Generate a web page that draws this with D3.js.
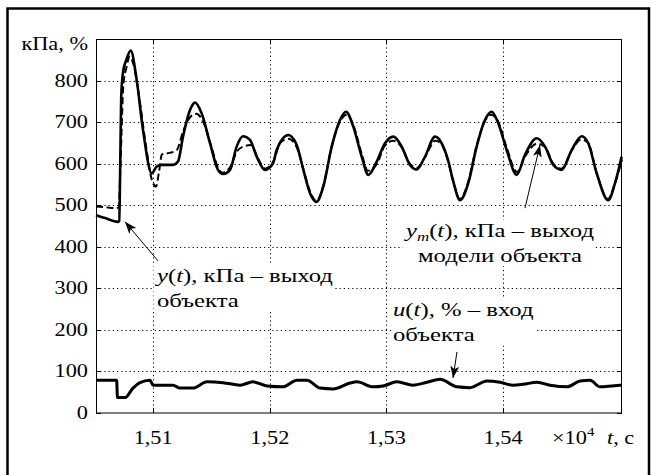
<!DOCTYPE html>
<html><head><meta charset="utf-8">
<script src="https://cdn.jsdelivr.net/npm/d3@7"></script>
<style>
body{margin:0;background:#fff}
svg{display:block}
text{font-family:"Liberation Serif","Times New Roman",serif;fill:#000}
</style>
</head><body>
<svg id="c" width="651" height="475"></svg>
<script>
// ---- data ----
const yTicks = [0,100,200,300,400,500,600,700,800];
const xTicks = [15100,15200,15300,15400];
const xTickLabels = ["1,51","1,52","1,53","1,54"];

// y(t), kPa – object output (solid)
const tY = [15051,15058.7,15069.9,15070.9,15071.8,15072.6,15074.1,15077,15080.8,15085.9,15091.3,15098.8,15103.0,15107.3,15117.0,15121.3,15125.6,15131.6,15135.9,15141.6,15148.7,15155.6,15159.9,15165.9,15171.6,15177.0,15183.0,15188.8,15195.9,15202.8,15205.9,15215.9,15223.1,15228.8,15234.5,15240.2,15245.9,15253.1,15260.2,15265.4,15271.6,15278.8,15284.5,15291.7,15298.8,15305.9,15313.1,15320.2,15326.0,15333.1,15341.7,15347.4,15352.8,15357.1,15363.1,15370.2,15377.4,15384.5,15390.3,15395.9,15403.1,15411.7,15418.8,15428.9,15436.0,15443.1,15450.3,15458.9,15467.4,15473.1,15480.3,15490.2,15496.0,15501.7];
const yVals = [476,469,460,462,600,760,818,850,872,801,681,577,593,597,597,605,665,729,747,721,650,585,575,585,641,666,657,617,585,601,633,669,645,585,529,508,545,641,705,725,689,617,573,605,649,665,641,597,586,617,665,649,609,560,512,553,641,705,725,697,633,573,621,661,641,597,585,633,666,649,577,512,553,617];

// y_m(t), kPa – model output (dashed)
const tYm = [15051,15060,15068,15070.5,15072,15074.5,15077,15080,15083,15088,15094,15099,15102.5,15105,15107.5,15114,15120,15126,15132,15137,15143,15150,15156,15160,15166,15172,15178,15184,15190,15196,15203,15209,15216,15223,15229,15235,15240,15246,15253,15260,15266,15272,15279,15284,15292,15299,15306,15313,15320,15326,15333,15342,15347,15353,15357,15363,15370,15377,15384,15390,15396,15403,15412,15419,15429,15436,15443,15450,15459,15467,15473,15480,15490,15496,15502];
const ymVals = [497,495,493,495,600,790,830,858,840,760,640,560,545,580,622,626,632,680,713,720,700,640,588,578,592,630,642,645,612,588,605,650,660,640,585,530,510,548,640,700,718,690,622,583,600,645,655,640,600,590,615,655,648,605,560,515,555,640,700,718,700,640,580,618,648,640,600,588,632,658,650,580,515,553,610];

// u(t), % – object input
const tU = [15051,15068.7,15069.4,15075.9,15082.7,15088.7,15097.3,15099.9,15117.0,15123.0,15134.2,15146.2,15159.9,15174.5,15185.6,15197.6,15211.3,15223.3,15231.9,15243.1,15254.2,15268.8,15274.8,15288.5,15297.1,15309.1,15322.8,15334.8,15346.0,15360.5,15371.7,15386.2,15397.4,15408.5,15417.1,15429.1,15440.3,15454.8,15466.0,15474.6,15483.1,15493.4,15502];
const uVals = [79,79,37,37,60,73,79,67,67,60,60,75,73,67,75,65,63,79,79,60,58,72,75,63,65,75,67,74,81,63,61,77,74,67,69,74,67,63,77,79,63,65,67];

// ---- chart ----
const svg = d3.select("#c");
const SX = 1.24;  // horizontal stretch of the original typography
const SXa = 1.3;  // annotations
const x = d3.scaleLinear().domain([15051,15502]).range([96,622]);
const y = d3.scaleLinear().domain([0,900]).range([413,39]);

// outer frame
svg.append("rect").attr("x",7.5).attr("y",8.5).attr("width",641.5).attr("height",480)
  .attr("fill","none").attr("stroke","#000").attr("stroke-width",2.5);

// marker
const defs = svg.append("defs");
defs.append("marker").attr("id","ah").attr("markerUnits","userSpaceOnUse")
  .attr("markerWidth",14).attr("markerHeight",10).attr("refX",12).attr("refY",4.5)
  .attr("orient","auto")
  .append("path").attr("d","M0,0 L12,4.5 L0,9 L3,4.5 z").attr("fill","#000");

// grid
const grid = svg.append("g").attr("stroke","#000").attr("stroke-width",1).attr("stroke-dasharray","1.2,3");
grid.selectAll("line.h").data(yTicks.filter(d=>d>0)).join("line")
  .attr("x1",96).attr("x2",622).attr("y1",d=>Math.round(y(d))+0.5).attr("y2",d=>Math.round(y(d))+0.5);
grid.selectAll("line.v").data(xTicks).join("line").attr("class","v")
  .attr("y1",39).attr("y2",413).attr("x1",d=>Math.round(x(d))+0.5).attr("x2",d=>Math.round(x(d))+0.5);

// annotation text helper
function note(px, py, lines, anchor) {
  const g = svg.append("g").attr("transform",`translate(${px},${py}) scale(${SXa},1)`);
  const bg = g.append("rect").attr("fill","#fff");
  lines.forEach((ln,i)=>{
    const t = g.append("text").attr("x",0).attr("y",i*25).attr("font-size",19)
      .attr("text-anchor",anchor||"start");
    ln.forEach(p=>{
      const s = t.append("tspan").text(p.t);
      if (p.i) s.attr("font-style","italic");
      if (p.sub) s.attr("font-size",13).attr("dy",4);
      if (p.up) s.attr("dy",-4);
    });
  });
  const b = g.node().getBBox();
  bg.attr("x",b.x-1).attr("y",b.y).attr("width",b.width+2).attr("height",b.height);
  return g;
}
note(157,282,[[{t:"y",i:1},{t:"("},{t:"t",i:1},{t:"), кПа – выход"}],[{t:"объекта"}]]);
note(500,237,[[{t:"y",i:1},{t:"m",i:1,sub:1},{t:"(",up:1},{t:"t",i:1},{t:"), кПа – выход"}],[{t:"модели объекта"}]],"middle");
note(393,316,[[{t:"u",i:1},{t:"("},{t:"t",i:1},{t:"), % – вход"}],[{t:"объекта"}]]);

// lines
const line = d3.line().x(d=>x(d[0])).y(d=>y(d[1])).curve(d3.curveMonotoneX);
svg.append("path").attr("d",line(d3.zip(tYm,ymVals))).attr("fill","none")
  .attr("stroke","#000").attr("stroke-width",2).attr("stroke-dasharray","7,3.5");
svg.append("path").attr("d",line(d3.zip(tY,yVals))).attr("fill","none")
  .attr("stroke","#000").attr("stroke-width",2.6).attr("stroke-linejoin","round");
svg.append("path").attr("d",line(d3.zip(tU,uVals))).attr("fill","none")
  .attr("stroke","#000").attr("stroke-width",3).attr("stroke-linejoin","round");

// arrows (data coordinates of tail and tip)
const arrows = [[[15104.2,366],[15075.9,460]],[[15418.8,493],[15431.7,645]],[[15360.5,147],[15357.1,84]]];
svg.selectAll("line.arr").data(arrows).join("line").attr("class","arr")
  .attr("x1",d=>x(d[0][0])).attr("y1",d=>y(d[0][1])).attr("x2",d=>x(d[1][0])).attr("y2",d=>y(d[1][1]))
  .attr("stroke","#000").attr("stroke-width",1).attr("marker-end","url(#ah)");

// plot frame
svg.append("rect").attr("x",96.5).attr("y",39.5).attr("width",525).attr("height",373.5)
  .attr("fill","none").attr("stroke","#000").attr("stroke-width",1);

// ticks
const tk = svg.append("g").attr("stroke","#000").attr("stroke-width",1);
yTicks.forEach(d=>{
  const yy = Math.round(y(d))+0.5;
  tk.append("line").attr("x1",96).attr("x2",101).attr("y1",yy).attr("y2",yy);
  tk.append("line").attr("x1",617).attr("x2",622).attr("y1",yy).attr("y2",yy);
});
xTicks.forEach(d=>{
  const xx = Math.round(x(d))+0.5;
  tk.append("line").attr("y1",413).attr("y2",408).attr("x1",xx).attr("x2",xx);
  tk.append("line").attr("y1",39).attr("y2",44).attr("x1",xx).attr("x2",xx);
});

// tick labels
function lab(px,py,str,anchor){
  return svg.append("text").attr("transform",`translate(${px},${py}) scale(${SX},1)`)
    .attr("font-size",18).attr("text-anchor",anchor).text(str);
}
yTicks.forEach(d=>lab(88, y(d)+6, String(d), "end"));
xTicks.forEach((d,i)=>lab(x(d), 444, xTickLabels[i], "middle"));
lab(88, 50, "кПа, %", "end");

const ex = svg.append("text").attr("transform",`translate(552,444) scale(${SX},1)`).attr("font-size",18);
ex.append("tspan").text("×10");
ex.append("tspan").text("4").attr("font-size",12).attr("dy",-8);
const tl = svg.append("text").attr("transform",`translate(607,444) scale(${SX},1)`).attr("font-size",18);
tl.append("tspan").text("t").attr("font-style","italic");
tl.append("tspan").text(", с");
</script>
</body></html>
